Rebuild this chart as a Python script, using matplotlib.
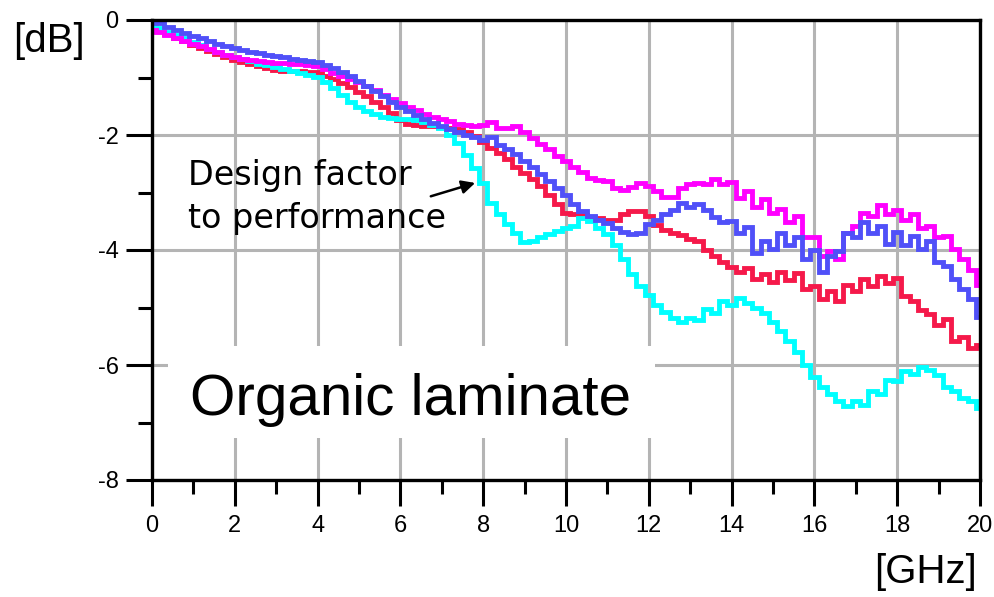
#!/usr/bin/env python3
"""
Insertion loss of four organic-laminate channels, 0-20 GHz.
Values read off the reference picture on a 0.2 GHz grid.
"""

import numpy as np
import matplotlib.pyplot as plt
from matplotlib.patches import Rectangle
from matplotlib.ticker import MultipleLocator

plt.rcParams['font.family'] = ['Liberation Sans', 'DejaVu Sans']

# ── Frequency grid [GHz] (0, 0.2, ... 20) ──
freq = np.round(np.arange(0, 20.01, 0.2), 1)

# ── Insertion loss [dB] ──
loss_blue = [
    -0.03, -0.06, -0.12, -0.17, -0.22, -0.27, -0.32, -0.37, -0.42, -0.46,
    -0.49, -0.52, -0.55, -0.58, -0.61, -0.63, -0.65, -0.67, -0.69, -0.71,
    -0.73, -0.78, -0.84, -0.91, -0.98, -1.06, -1.15, -1.24, -1.33, -1.42,
    -1.51, -1.59, -1.66, -1.73, -1.79, -1.85, -1.90, -1.95, -2.00, -2.04,
    -2.09, -2.03, -2.17, -2.25, -2.33, -2.45, -2.55, -2.67, -2.80, -2.93,
    -3.04, -3.20, -3.32, -3.40, -3.47, -3.53, -3.62, -3.68, -3.73, -3.70,
    -3.55, -3.47, -3.38, -3.30, -3.18, -3.26, -3.20, -3.30, -3.42, -3.52,
    -3.50, -3.70, -3.60, -4.05, -3.85, -3.98, -3.70, -3.92, -3.78, -4.15,
    -4.00, -4.38, -4.10, -4.02, -3.70, -3.78, -3.52, -3.70, -3.58, -3.90,
    -3.68, -3.92, -3.75, -3.98, -3.85, -4.20, -4.28, -4.50, -4.68, -4.85,
    -5.17,
]
loss_magenta = [
    -0.17, -0.21, -0.26, -0.31, -0.36, -0.41, -0.46, -0.51, -0.55, -0.60,
    -0.64, -0.67, -0.69, -0.71, -0.73, -0.74, -0.75, -0.76, -0.77, -0.78,
    -0.80, -0.86, -0.92, -0.98, -1.03, -1.08, -1.15, -1.22, -1.30, -1.38,
    -1.45, -1.51, -1.57, -1.63, -1.69, -1.72, -1.76, -1.80, -1.83, -1.84,
    -1.83, -1.78, -1.87, -1.88, -1.84, -1.94, -2.05, -2.15, -2.24, -2.36,
    -2.46, -2.55, -2.64, -2.74, -2.78, -2.80, -2.92, -2.96, -2.90, -2.84,
    -2.88, -2.97, -3.08, -3.08, -2.92, -2.86, -2.84, -2.85, -2.76, -2.86,
    -2.82, -3.10, -2.98, -3.25, -3.12, -3.35, -3.28, -3.52, -3.40, -3.78,
    -3.78, -4.10, -4.02, -4.15, -3.70, -3.58, -3.36, -3.40, -3.22, -3.38,
    -3.30, -3.48, -3.38, -3.62, -3.58, -3.78, -3.76, -3.98, -4.15, -4.35,
    -4.60,
]
loss_red = [
    -0.14, -0.19, -0.25, -0.31, -0.37, -0.43, -0.49, -0.54, -0.59, -0.65,
    -0.70, -0.73, -0.76, -0.80, -0.84, -0.87, -0.88, -0.89, -0.89, -0.90,
    -0.91, -0.97, -1.03, -1.10, -1.17, -1.25, -1.33, -1.42, -1.51, -1.62,
    -1.74, -1.80, -1.83, -1.84, -1.85, -1.86, -1.87, -1.90, -1.95, -2.02,
    -2.12, -2.22, -2.32, -2.42, -2.56, -2.66, -2.76, -2.88, -3.05, -3.20,
    -3.35, -3.38, -3.39, -3.42, -3.45, -3.48, -3.48, -3.38, -3.33, -3.32,
    -3.40, -3.56, -3.66, -3.71, -3.74, -3.80, -3.85, -4.00, -4.10, -4.20,
    -4.30, -4.38, -4.32, -4.50, -4.42, -4.55, -4.38, -4.52, -4.40, -4.68,
    -4.62, -4.85, -4.72, -4.88, -4.60, -4.72, -4.50, -4.62, -4.45, -4.58,
    -4.48, -4.80, -4.88, -5.05, -5.12, -5.30, -5.20, -5.58, -5.52, -5.70,
    -5.66,
]
loss_cyan = [
    -0.09, -0.14, -0.20, -0.26, -0.32, -0.38, -0.44, -0.50, -0.55, -0.60,
    -0.64, -0.68, -0.72, -0.76, -0.79, -0.82, -0.85, -0.89, -0.93, -0.96,
    -0.99, -1.08, -1.19, -1.30, -1.42, -1.52, -1.58, -1.64, -1.68, -1.70,
    -1.72, -1.73, -1.74, -1.78, -1.83, -1.88, -2.00, -2.14, -2.35, -2.58,
    -2.84, -3.19, -3.38, -3.55, -3.71, -3.86, -3.84, -3.78, -3.73, -3.67,
    -3.62, -3.58, -3.45, -3.50, -3.62, -3.72, -3.92, -4.15, -4.41, -4.62,
    -4.78, -4.96, -5.08, -5.18, -5.25, -5.18, -5.22, -5.02, -5.10, -4.88,
    -4.95, -4.84, -4.92, -5.00, -5.10, -5.25, -5.40, -5.58, -5.78, -6.00,
    -6.20, -6.38, -6.50, -6.62, -6.72, -6.62, -6.70, -6.46, -6.50, -6.26,
    -6.28, -6.10, -6.16, -6.04, -6.08, -6.18, -6.38, -6.45, -6.58, -6.62,
    -6.74,
]

series = [
    (loss_red, '#F5194A'),
    (loss_cyan, '#00FFFF'),
    (loss_magenta, '#FF00FF'),
    (loss_blue, '#5050F8'),
]

fig = plt.figure(figsize=(9.94, 5.97), dpi=100)
ax = fig.add_axes([152 / 994, 1 - 480 / 597, 828 / 994, 460 / 597])

for vals, col in series:
    ax.plot(freq, vals, color=col, lw=3.5, drawstyle='steps-mid',
            solid_joinstyle='miter', zorder=4)

# ── Axes, ticks, grid ──
ax.set_xlim(0, 20)
ax.set_ylim(-8, 0)
ax.xaxis.set_major_locator(MultipleLocator(2))
ax.xaxis.set_minor_locator(MultipleLocator(1))
ax.yaxis.set_major_locator(MultipleLocator(2))
ax.yaxis.set_minor_locator(MultipleLocator(1))
ax.tick_params(which='major', direction='out', length=19, width=2.2,
               labelsize=17, pad=5)
ax.tick_params(which='minor', direction='out', length=10, width=2.2)
ax.tick_params(axis='x', which='major', pad=6)
ax.set_yticks([0, -2, -4, -6, -8])
ax.set_yticklabels(['0', '-2', '-4', '-6', '-8'])
ax.grid(which='major', color='#B4B4B4', lw=2.2, zorder=0)
ax.set_axisbelow(True)
for sp in ax.spines.values():
    sp.set_linewidth(2.4)
    sp.set_zorder(6)

# white box behind the big label
ax.add_patch(Rectangle((0.39, -7.27), 11.76, 1.6, facecolor='white',
                       edgecolor='none', zorder=2))
ax.text(0.92, -6.87, 'Organic laminate', fontsize=42, ha='left',
        va='baseline', zorder=5)

# annotation with arrow
ax.text(0.88, -3.62, 'Design factor\nto performance', fontsize=24,
        family=['DejaVu Sans'], ha='left', va='baseline', linespacing=1.4,
        zorder=5)
ax.annotate('', xy=(7.87, -2.82), xytext=(6.67, -3.08),
            arrowprops=dict(arrowstyle='-|>', color='black', lw=1.8,
                            mutation_scale=20),
            zorder=5)

fig.text(13 / 994, 1 - 52 / 597, '[dB]', fontsize=29, va='baseline')
fig.text(977 / 994, 1 - 583 / 597, '[GHz]', fontsize=29, ha='right',
         va='baseline')

fig.savefig('out.png', dpi=100)
